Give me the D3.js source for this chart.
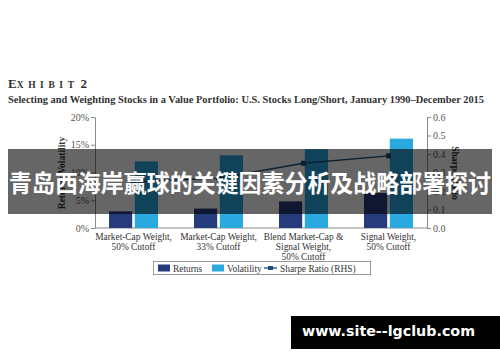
<!DOCTYPE html>
<html>
<head>
<meta charset="utf-8">
<script src="https://cdn.jsdelivr.net/npm/d3@7"></script>
<style>
  html, body { margin: 0; padding: 0; background: #fff; }
  svg { display: block; font-family: "Liberation Serif", "DejaVu Serif", serif; }
</style>
</head>
<body>
<div id="chart"></div>
<script>
// data read from the exhibit
const categories = [
  ['Market-Cap Weight,', '50% Cutoff'],
  ['Market-Cap Weight,', '33% Cutoff'],
  ['Blend Market-Cap &', 'Signal Weight,', '50% Cutoff'],
  ['Signal Weight,', '50% Cutoff']
];
const returnsVals = [3.0, 3.5, 4.8, 6.3];
const volatilityVals = [12.0, 13.1, 14.2, 16.1];
const sharpeVals = [0.25, 0.27, 0.35, 0.39];
const leftTicks = [0, 5, 10, 15, 20];
const rightTicks = [0, 0.1, 0.2, 0.3, 0.4, 0.5, 0.6];
const seriesNames = ['Returns', 'Volatility'];

const COLORS = { Returns: '#263b7c', Volatility: '#2aa9e0', Sharpe: '#1c4d78' };

// layout
const fullWidth = 500, fullHeight = 362;
const plot = { left: 95, right: 427, top: 117, bottom: 228 };

const svg = d3.select('#chart').append('svg')
  .attr('width', fullWidth)
  .attr('height', fullHeight);

// titles
const t1 = svg.append('text').attr('x', 8).attr('y', 88)
  .attr('fill', '#333').attr('font-weight', 'bold');
t1.append('tspan').attr('font-size', 13).text('E');
t1.append('tspan').attr('font-size', 9.5).attr('letter-spacing', 4.6).text('XHIBIT');
t1.append('tspan').attr('font-size', 13).attr('dx', 2).text('2');

svg.append('text')
  .attr('x', 8).attr('y', 103)
  .attr('font-size', 11).attr('font-weight', 'bold').attr('fill', '#333')
  .attr('textLength', 476).attr('lengthAdjust', 'spacingAndGlyphs')
  .text('Selecting and Weighting Stocks in a Value Portfolio: U.S. Stocks Long/Short, January 1990\u2013December 2015');

// scales
const x = d3.scaleBand().domain(d3.range(categories.length)).range([91, 431]);
const xInner = d3.scaleBand().domain(seriesNames).range([-24.5, 24.5]).paddingInner(0.1);
const yL = d3.scaleLinear().domain([0, 20]).range([plot.bottom, plot.top]);
const yR = d3.scaleLinear().domain([0, 0.6]).range([plot.bottom, plot.top]);

const cx = i => x(i) + x.bandwidth() / 2;

// axes
const axisColor = '#8a8a8a';
const leftAxis = svg.append('g')
  .attr('transform', `translate(${plot.left},0)`)
  .call(d3.axisLeft(yL).tickValues(leftTicks).tickFormat(d => d + '%').tickSize(4).tickSizeOuter(0));
const rightAxis = svg.append('g')
  .attr('transform', `translate(${plot.right},0)`)
  .call(d3.axisRight(yR).tickValues(rightTicks).tickFormat(d3.format('.1f')).tickSize(4).tickSizeOuter(0));

[leftAxis, rightAxis].forEach(a => {
  a.selectAll('path, line').attr('stroke', axisColor);
  a.selectAll('text')
    .attr('font-family', '"Liberation Serif", serif')
    .attr('font-size', 10).attr('fill', '#555');
});
leftAxis.selectAll('text').attr('x', -6);
rightAxis.selectAll('text').attr('x', 6);

// baseline
svg.append('line')
  .attr('x1', plot.left).attr('x2', plot.right)
  .attr('y1', yL(0)).attr('y2', yL(0))
  .attr('stroke', axisColor);

// axis titles
svg.append('text')
  .attr('transform', `translate(65,173) rotate(-90)`)
  .attr('text-anchor', 'middle')
  .attr('font-size', 9.5).attr('font-weight', 'bold').attr('fill', '#333')
  .text('Returns/Volatility');
svg.append('text')
  .attr('transform', `translate(452,173) rotate(90)`)
  .attr('text-anchor', 'middle')
  .attr('font-size', 9.5).attr('font-weight', 'bold').attr('fill', '#333')
  .text('Sharpe Ratio');

// bars
const barData = [];
categories.forEach((c, i) => {
  barData.push({ i, key: 'Returns', v: returnsVals[i] });
  barData.push({ i, key: 'Volatility', v: volatilityVals[i] });
});

svg.append('g').selectAll('rect')
  .data(barData)
  .join('rect')
  .attr('x', d => cx(d.i) + xInner(d.key))
  .attr('width', xInner.bandwidth())
  .attr('y', d => yL(d.v))
  .attr('height', d => yL(0) - yL(d.v))
  .attr('fill', d => COLORS[d.key]);

// sharpe line
const line = d3.line()
  .x((d, i) => cx(i))
  .y(d => yR(d));

svg.append('path')
  .datum(sharpeVals)
  .attr('d', line)
  .attr('fill', 'none')
  .attr('stroke', COLORS.Sharpe)
  .attr('stroke-width', 1.3);

svg.append('g').selectAll('rect')
  .data(sharpeVals)
  .join('rect')
  .attr('x', (d, i) => cx(i) - 2.5)
  .attr('y', d => yR(d) - 2.5)
  .attr('width', 5).attr('height', 5)
  .attr('fill', COLORS.Sharpe);

// category labels
const catG = svg.append('g');
categories.forEach((lines, i) => {
  const t = catG.append('text')
    .attr('text-anchor', 'middle')
    .attr('font-size', 9.4).attr('fill', '#333');
  lines.forEach((s, k) => {
    t.append('tspan').attr('x', cx(i)).attr('y', 240 + k * 9.8).text(s);
  });
});

// legend
const legend = svg.append('g');
legend.append('rect')
  .attr('x', 153.5).attr('y', 261.5).attr('width', 217).attr('height', 13)
  .attr('fill', 'none').attr('stroke', '#999');
const legendItems = [
  { name: 'Returns', type: 'bar', color: COLORS.Returns, x: 158 },
  { name: 'Volatility', type: 'bar', color: COLORS.Volatility, x: 212 },
  { name: 'Sharpe Ratio (RHS)', type: 'line', color: COLORS.Sharpe, x: 264 }
];
legendItems.forEach(d => {
  if (d.type === 'bar') {
    legend.append('rect').attr('x', d.x).attr('y', 264.5).attr('width', 12).attr('height', 7).attr('fill', d.color);
  } else {
    legend.append('line').attr('x1', d.x).attr('x2', d.x + 13).attr('y1', 268).attr('y2', 268)
      .attr('stroke', d.color).attr('stroke-width', 1.3);
    legend.append('rect').attr('x', d.x + 4).attr('y', 266).attr('width', 5).attr('height', 4).attr('fill', d.color);
  }
  legend.append('text')
    .attr('x', d.x + (d.type === 'bar' ? 15 : 16)).attr('y', 271.5)
    .attr('font-size', 9.4).attr('fill', '#333')
    .text(d.name);
});

// overlay banner
svg.append('rect')
  .attr('x', 8).attr('y', 149).attr('width', 484).attr('height', 65)
  .attr('fill', '#000').attr('fill-opacity', 0.6);
svg.append('text')
  .attr('x', 250).attr('y', 192)
  .attr('text-anchor', 'middle')
  .attr('font-family', '"Noto Sans CJK SC", sans-serif')
  .attr('font-weight', 'bold').attr('font-size', 24).attr('fill', '#fff')
  .attr('textLength', 482).attr('lengthAdjust', 'spacingAndGlyphs')
  .text('青岛西海岸赢球的关键因素分析及战略部署探讨');

// watermark
svg.append('rect')
  .attr('x', 291).attr('y', 316).attr('width', 209).attr('height', 33)
  .attr('fill', '#000');
svg.append('text')
  .attr('x', 302).attr('y', 336)
  .attr('font-family', '"DejaVu Sans", sans-serif')
  .attr('font-weight', 'bold').attr('font-size', 14).attr('fill', '#fff')
  .attr('textLength', 173).attr('lengthAdjust', 'spacingAndGlyphs')
  .text('www.site--lgclub.com');
</script>
</body>
</html>
